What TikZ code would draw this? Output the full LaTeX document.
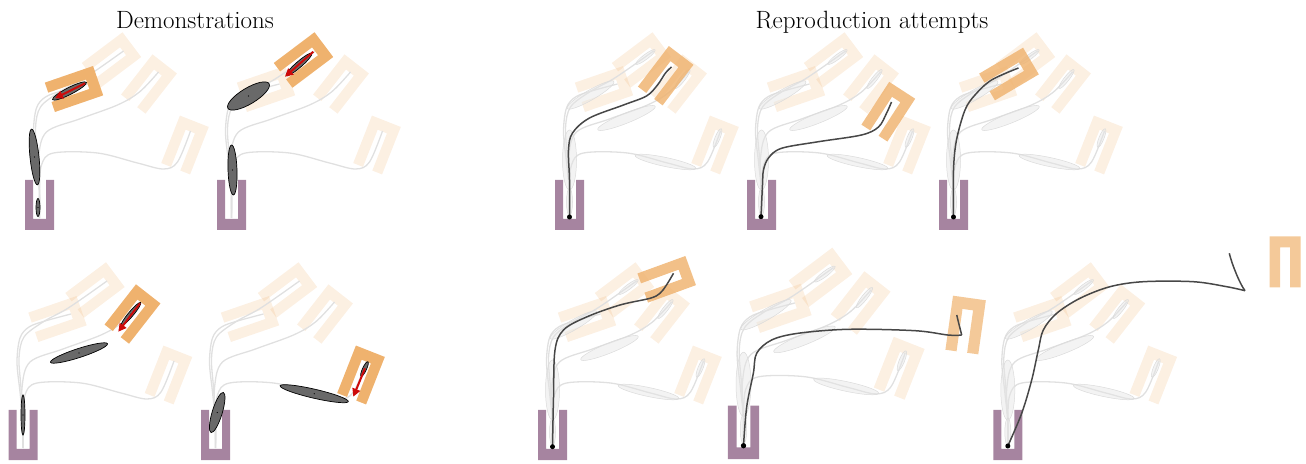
\documentclass[tikz,border=0pt]{standalone}
\usetikzlibrary{arrows.meta}
\definecolor{orC}{RGB}{239,178,110}
\definecolor{purC}{RGB}{166,132,160}
\definecolor{ellC}{RGB}{105,105,105}
\definecolor{arrC}{RGB}{205,10,10}
\tikzset{
  faintframe/.style={fill=orC,fill opacity=0.2},
  hiframe/.style={fill=orC},
  reframe/.style={fill=orC,fill opacity=0.82},
  reframeb/.style={fill=orC,fill opacity=0.7},
  startframe/.style={fill=purC},
  demopath/.style={draw=black!12,line width=1.3pt},
  gauss/.style={fill=ellC,draw=black,line width=0.7pt},
  fgauss/.style={fill=black!10,fill opacity=0.45,draw=black!14,line width=0.5pt},
  motion/.style={draw=arrC,line width=2pt,-{Triangle[length=8pt,width=8pt]}},
  repath/.style={draw=black!72,line width=1.5pt},
}
% U-shaped goal frame: opening at local x=-25.5, closed end at x=+25.5
\newcommand\Uf[4]{\path[#4,shift={(#1,#2)},rotate=#3] (-25.5,15.5) -- (25.5,15.5) -- (25.5,-15.5) -- (-25.5,-15.5) -- (-25.5,-5) -- (14.5,-5) -- (14.5,5) -- (-25.5,5) -- cycle;}
\newcommand\Ge[6]{\path[#6,rotate around={#3:(#1,#2)}] (#1,#2) ellipse [x radius=#4,y radius=#5];}
\newcommand\Gd[5]{\Ge{#1}{#2}{#3}{#4}{#5}{gauss}\fill (#1,#2) circle[radius=0.6];}
\newcommand\SceneBase{%
  \Uf{34.5}{91}{19}{faintframe}
  \Uf{72}{120}{37}{faintframe}
  \Uf{109.5}{96}{52}{faintframe}
  \Uf{145.5}{35}{68.5}{faintframe}
  \draw[demopath] plot[smooth,tension=0.55] coordinates {(0,-38) (0,-12) (-3,18) (-6,48) (-3,72) (6,83) (22,89) (48,96)};
  \draw[demopath] plot[smooth,tension=0.55] coordinates {(0,-38) (0,-12) (-2,22) (-4,52) (1,73) (20,88) (42,100) (60,112) (84,129)};
  \draw[demopath] plot[smooth,tension=0.55] coordinates {(0,-38) (0,-12) (-1,22) (7,48) (40,61) (78,75) (100,88) (119,108)};
  \draw[demopath] plot[smooth,tension=0.55] coordinates {(0,-38) (0,-12) (2,15) (14,27) (58,27) (98,17) (124,11) (138,18) (151,49)};
}
\newcommand\SceneGauss{%
  \Ge{0}{20}{90}{30}{7}{fgauss}
  \Ge{0}{-22}{90}{14}{3}{fgauss}
  \Ge{21}{85}{30}{27}{5}{fgauss}
  \Ge{57}{62}{22}{31}{5}{fgauss}
  \Ge{96}{18}{-12}{31}{4.5}{fgauss}
  \Ge{76}{123}{37}{12}{2.5}{fgauss}
  \Ge{113}{101}{52}{12}{2.5}{fgauss}
  \Ge{148}{42}{68}{10}{2.5}{fgauss}
}
\newcommand\StartFrame{\path[startframe] (-14.5,0) -- (-14.5,-50) -- (14.5,-50) -- (14.5,0) -- (6.5,0) -- (6.5,-39) -- (-6.5,-39) -- (-6.5,0) -- cycle;}
\begin{document}
\begin{tikzpicture}[x=1pt,y=1pt]
\useasboundingbox (0,0) rectangle (1306,463);
\node[anchor=base,font=\fontsize{25}{30}\selectfont,inner sep=0pt] (demotitle) at (195,434.7) {Demonstrations};
\node[anchor=base,font=\fontsize{25}{30}\selectfont,inner sep=0pt] (reprotitle) at (872,434.7) {Reproduction attempts};

% ---------- top demonstrations ----------
\begin{scope}[shift={(39.5,283)}]
  \SceneBase \StartFrame
  \Uf{34.5}{91}{19}{hiframe}
  \Gd{-1.5}{-27.5}{90}{9}{2}
  \Gd{-5}{23}{96}{28}{4.5}
  \Gd{30}{89}{27}{19}{3.5}
  \coordinate (a1) at (45.5,96.7); \coordinate (b1) at (15.5,81.7);
  \draw[motion] (a1) -- (b1);
\end{scope}
\begin{scope}[shift={(231.5,283)}]
  \SceneBase \StartFrame
  \Uf{72}{120}{37}{hiframe}
  \Gd{1}{10}{92}{25}{4.5}
  \Gd{17}{84}{31}{24}{8}
  \Gd{67.5}{115.5}{41}{17}{3}
  \coordinate (a2) at (81.8,128.3); \coordinate (b2) at (53.5,103.3);
  \draw[motion] (a2) -- (b2);
\end{scope}

% ---------- bottom demonstrations ----------
\begin{scope}[shift={(23,53)}]
  \SceneBase \StartFrame
  \Uf{109.5}{96}{52}{hiframe}
  \Gd{0}{-5}{90}{20}{2}
  \Gd{56}{57}{18}{30}{4.5}
  \Gd{108}{96}{50}{15}{2.5}
  \coordinate (a6) at (117,106.7); \coordinate (b6) at (95.3,78.3);
  \draw[motion] (a6) -- (b6);
\end{scope}
\begin{scope}[shift={(215.5,53)}]
  \SceneBase \StartFrame
  \Uf{145.5}{35}{68.5}{hiframe}
  \Gd{1.7}{-2.5}{73}{21}{5}
  \Gd{98.7}{16.3}{-13}{35}{4.5}
  \Gd{149}{41}{65}{8}{2}
  \coordinate (a7) at (149.5,41.7); \coordinate (b7) at (137.8,13.3);
  \draw[motion] (a7) -- (b7);
\end{scope}

% ---------- top reproductions ----------
\begin{scope}[shift={(569.5,283)}]
  \SceneBase \SceneGauss \StartFrame
  \Uf{96.2}{104.3}{52.7}{reframe}
  \coordinate (s3) at (0,-37);
  \draw[repath] plot[smooth,tension=0.55] coordinates {(s3) (0,0) (-1,30) (3,47) (20,62) (54,75) (77,84) (88,95) (96,107) (102,113)};
  \fill (s3) circle[radius=2.5];
\end{scope}
\begin{scope}[shift={(761.5,283)}]
  \SceneBase \SceneGauss \StartFrame
  \Uf{126.8}{68.3}{57}{reframe}
  \coordinate (s4) at (-0.5,-36.7);
  \draw[repath] plot[smooth,tension=0.55] coordinates {(s4) (1,-5) (2,10) (7,22) (20,31.7) (57,38.3) (100,45) (117,53) (125,66.7) (130,78)};
  \fill (s4) circle[radius=2.5];
\end{scope}
\begin{scope}[shift={(953.5,283)}]
  \SceneBase \SceneGauss \StartFrame
  \Uf{55.5}{106}{30.6}{reframe}
  \coordinate (s5) at (0,-37);
  \draw[repath] plot[smooth,tension=0.55] coordinates {(s5) (0,10) (3,40) (11.5,70) (21.5,85) (38,100) (65,112)};
  \fill (s5) circle[radius=2.5];
\end{scope}

% ---------- bottom reproductions ----------
\begin{scope}[shift={(552.5,53)}]
  \SceneBase \SceneGauss \StartFrame
  \Uf{114.2}{130.7}{20}{reframe}
  \coordinate (s8) at (0,-36.7);
  \draw[repath] plot[smooth,tension=0.55] coordinates {(s8) (1,13) (2.5,60) (11,80) (34,93) (67.5,105) (97.5,111.7) (107.5,116.7) (114,125) (121,136.7)};
  \fill (s8) circle[radius=2.5];
\end{scope}
\begin{scope}[shift={(743.5,57.3)},x=1.07pt,y=1.07pt]
  \SceneBase \SceneGauss \StartFrame
  \Uf{207.6}{75.4}{82}{reframeb}
  \coordinate (s9) at (0,-37.4); \coordinate (t9) at (203.9,66);
  \draw[repath] plot[smooth,tension=0.55] coordinates {(s9) (3,-1) (9.2,30.3) (12.3,49) (26.3,61.4) (51.2,67.7) (98,71.4) (160.3,70.1) (191.4,66) (t9)};
  \draw[repath] (t9) .. controls (202.5,72) and (200.5,79) .. (199.3,84.8);
  \fill (s9) circle[radius=2.5];
\end{scope}
\begin{scope}[shift={(1007.8,53)}]
  \SceneBase \SceneGauss \StartFrame
  \Uf{277.2}{148}{90}{reframeb}
  \coordinate (s10) at (0,-36); \coordinate (t10) at (237.2,119.3);
  \draw[repath] plot[smooth,tension=0.55] coordinates {(s10) (13.9,-3.3) (23.9,30) (30.5,60) (35.5,80) (48.9,96.7) (72.2,111.7) (102.2,123.3) (135.5,128.3) (185.5,128.3) (218.9,123.3) (t10)};
  \draw[repath] (t10) .. controls (232,126) and (224,146) .. (221.5,156.7);
  \fill (s10) circle[radius=2.5];
\end{scope}
\end{tikzpicture}
\end{document}
